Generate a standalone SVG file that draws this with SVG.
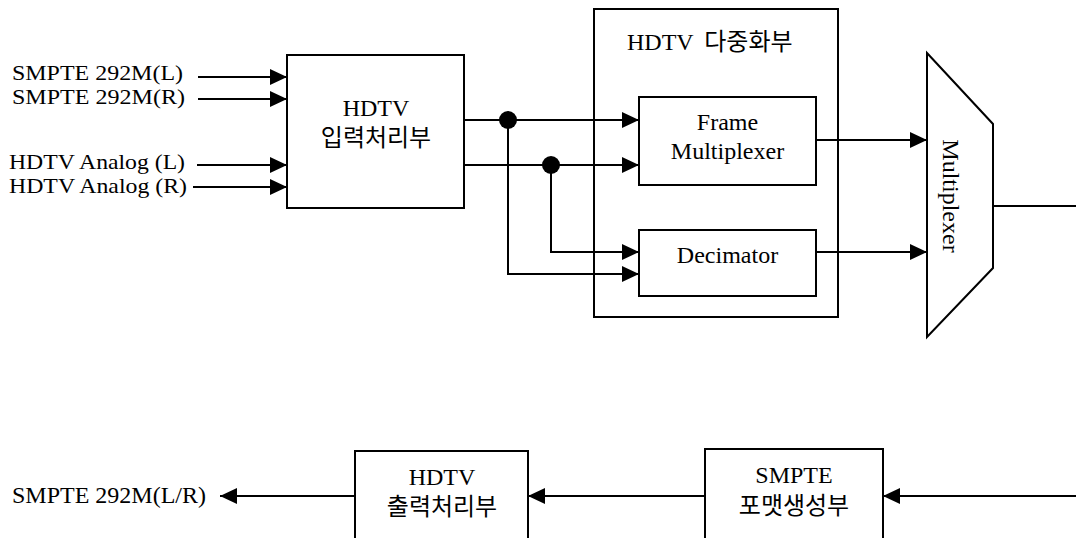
<svg xmlns="http://www.w3.org/2000/svg" width="1076" height="538" viewBox="0 0 1076 538">
<defs>
<marker id="ah" markerWidth="17" markerHeight="16" refX="17" refY="8" orient="auto" markerUnits="userSpaceOnUse">
<path d="M0,0 L17,8 L0,16 Z" fill="#000"/>
</marker>
<style>
.box{fill:#fff;stroke:#000;stroke-width:2}
.ln{fill:none;stroke:#000;stroke-width:2}
.ar{fill:none;stroke:#000;stroke-width:2;marker-end:url(#ah)}
.t{font-family:"Liberation Serif","Noto Sans CJK KR",serif;font-size:24px;fill:#000}
.s{font-size:21px}
.c{text-anchor:middle}
</style>
</defs>
<rect width="1076" height="538" fill="#fff"/>

<g id="inputs">
<text class="t s" x="12" y="80" textLength="171" lengthAdjust="spacingAndGlyphs">SMPTE 292M(L)</text>
<text class="t s" x="12" y="104" textLength="173" lengthAdjust="spacingAndGlyphs">SMPTE 292M(R)</text>
<text class="t s" x="9" y="169" textLength="176" lengthAdjust="spacingAndGlyphs">HDTV Analog (L)</text>
<text class="t s" x="9" y="193" textLength="178" lengthAdjust="spacingAndGlyphs">HDTV Analog (R)</text>
</g>

<g id="hdtv-input">
<rect class="box" x="287" y="55" width="177" height="153"/>
<text class="t c" x="376" y="116">HDTV</text>
<text class="t c" x="376" y="146">입력처리부</text>
</g>

<g id="hdtv-mux-group">
<rect class="box" x="594" y="9" width="244" height="308"/>
<text class="t" x="627" y="50">HDTV <tspan dx="5">다중화부</tspan></text>
</g>

<g id="frame-mux">
<rect class="box" x="639" y="97" width="177" height="88"/>
<text class="t c" x="727.5" y="130">Frame</text>
<text class="t c" x="727.5" y="159">Multiplexer</text>
</g>

<g id="decimator">
<rect class="box" x="639" y="230" width="177" height="66"/>
<text class="t c" x="727.5" y="263">Decimator</text>
</g>

<g id="multiplexer">
<polygon class="box" points="927,53 993,124 993,268 927,337"/>
<text class="t c" transform="translate(943,196) rotate(90)" x="0" y="0">Multiplexer</text>
</g>

<g id="smpte-format">
<rect class="box" x="705" y="449" width="178" height="100"/>
<text class="t c" x="794" y="483">SMPTE</text>
<text class="t c" x="794" y="514">포맷생성부</text>
</g>

<g id="hdtv-output">
<rect class="box" x="355" y="451" width="173" height="100"/>
<text class="t c" x="442" y="485">HDTV</text>
<text class="t c" x="442" y="515">출력처리부</text>
</g>

<g id="output-label">
<text class="t" x="12" y="503">SMPTE 292M(L/R)</text>
</g>

<g id="connectors">
<line class="ar" x1="198" y1="77" x2="287" y2="77"/>
<line class="ar" x1="198" y1="99" x2="287" y2="99"/>
<line class="ar" x1="197" y1="165" x2="287" y2="165"/>
<line class="ar" x1="193" y1="187" x2="287" y2="187"/>

<line class="ar" x1="464" y1="120" x2="639" y2="120"/>
<line class="ar" x1="464" y1="165" x2="639" y2="165"/>
<polyline class="ar" points="508,120 508,274 639,274"/>
<polyline class="ar" points="551,165 551,252 639,252"/>
<circle cx="508" cy="120" r="9" fill="#000"/>
<circle cx="551" cy="165" r="9" fill="#000"/>

<line class="ar" x1="816" y1="140" x2="927" y2="140"/>
<line class="ar" x1="816" y1="252" x2="927" y2="252"/>
<line class="ln" x1="993" y1="206" x2="1076" y2="206"/>

<line class="ar" x1="1076" y1="496" x2="883" y2="496"/>
<line class="ar" x1="705" y1="496" x2="528" y2="496"/>
<line class="ar" x1="355" y1="496" x2="220" y2="496"/>
</g>
</svg>
